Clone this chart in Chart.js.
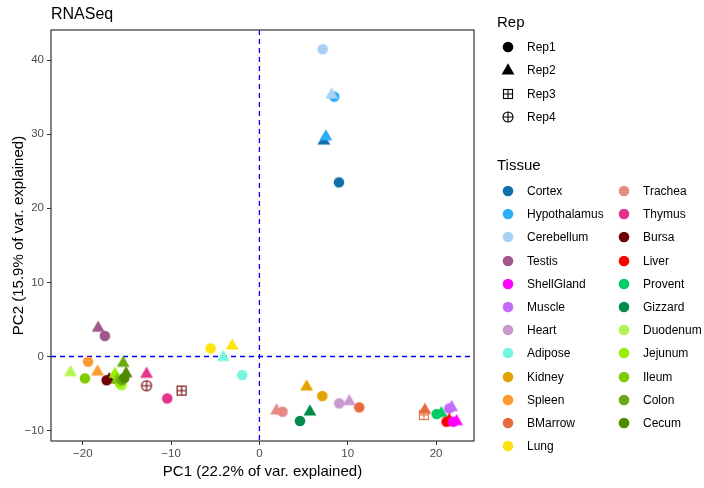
<!DOCTYPE html>
<html>
<head>
<meta charset="utf-8">
<script src="https://cdn.jsdelivr.net/npm/chart.js@4.4.0/dist/chart.umd.min.js"></script>
<style>
    body { margin: 0; background: #fff; }
    #wrap { position: relative; width: 704px; height: 488px; font-family: "Liberation Sans", Arial, sans-serif; color: #000; }
    #chart { position: absolute; left: 0; top: 0; }
    .lg-title { position: absolute; font-size: 15px; line-height: 18px; margin-top: -9px; }
    .lg-item { position: absolute; font-size: 12px; line-height: 16px; margin-top: -8px; white-space: nowrap; }
    .lg-item canvas { position: absolute; left: -27px; top: 0; }
</style>
</head>
<body>
<div id="wrap">
    <canvas id="chart" width="704" height="488"></canvas>
    <div id="legend"></div>
</div>
<script>
// ── data ──
const tissues = ['Cortex', 'Hypothalamus', 'Cerebellum', 'Testis', 'ShellGland', 'Muscle', 'Heart', 'Adipose',
    'Kidney', 'Spleen', 'BMarrow', 'Lung', 'Trachea', 'Thymus', 'Bursa', 'Liver', 'Provent', 'Gizzard',
    'Duodenum', 'Jejunum', 'Ileum', 'Colon', 'Cecum'];
const tissueColors = ['#1170AA', '#2BAEF5', '#A8D0F5', '#A0588A', '#FF00FF', '#C36BFA', '#C899CC', '#76F5DF',
    '#E3A400', '#FF9A33', '#E76B3F', '#FFE30F', '#E68A84', '#E5338C', '#6E0000', '#FF0000', '#00CC66', '#008B4A',
    '#B0F552', '#96F000', '#80CC00', '#6AAA0E', '#4F8A00'];
const reps = ['Rep1', 'Rep2', 'Rep3', 'Rep4'];

const sampleTissue = ['Cortex', 'Cortex', 'Hypothalamus', 'Hypothalamus', 'Cerebellum', 'Cerebellum',
    'Testis', 'Testis', 'Lung', 'Lung', 'Adipose', 'Adipose', 'Spleen', 'Spleen', 'Kidney', 'Kidney',
    'Trachea', 'Trachea', 'Gizzard', 'Gizzard', 'Heart', 'Heart', 'BMarrow', 'BMarrow', 'BMarrow',
    'Provent', 'Provent', 'Muscle', 'Muscle', 'Liver', 'Liver', 'ShellGland', 'ShellGland',
    'Thymus', 'Thymus', 'Bursa', 'Bursa', 'Bursa', 'Bursa', 'Duodenum', 'Duodenum', 'Jejunum', 'Jejunum',
    'Ileum', 'Ileum', 'Colon', 'Colon', 'Cecum', 'Cecum'];
const sampleRep = ['Rep1', 'Rep2', 'Rep1', 'Rep2', 'Rep1', 'Rep2',
    'Rep1', 'Rep2', 'Rep1', 'Rep2', 'Rep1', 'Rep2', 'Rep1', 'Rep2', 'Rep1', 'Rep2',
    'Rep1', 'Rep2', 'Rep1', 'Rep2', 'Rep1', 'Rep2', 'Rep1', 'Rep2', 'Rep3',
    'Rep1', 'Rep2', 'Rep1', 'Rep2', 'Rep1', 'Rep2', 'Rep1', 'Rep2',
    'Rep1', 'Rep2', 'Rep1', 'Rep2', 'Rep3', 'Rep4', 'Rep1', 'Rep2', 'Rep1', 'Rep2',
    'Rep1', 'Rep2', 'Rep1', 'Rep2', 'Rep1', 'Rep2'];
const pc1 = [9.0, 7.3, 8.47, 7.53, 7.16, 8.18,
    -17.5, -18.26, -5.53, -3.08, -1.95, -4.1, -19.4, -18.33, 7.12, 5.34,
    2.62, 1.94, 4.59, 5.72, 9.04, 10.17, 11.3, 18.74, 18.63,
    20.07, 20.6, 21.5, 21.76, 21.2, 21.5, 21.95, 22.33,
    -10.44, -12.78, -17.3, -17.0, -8.81, -12.78, -15.6, -21.4, -15.8, -16.36,
    -19.76, -16.1, -15.6, -15.42, -15.3, -15.1];
const pc2 = [23.5, 29.2, 35.06, 29.76, 41.46, 35.4,
    2.77, 3.94, 1.1, 1.55, -2.5, 0.0, -0.7, -1.96, -5.33, -3.98,
    -7.45, -7.22, -8.7, -7.36, -6.32, -5.96, -6.86, -7.13, -7.9,
    -7.76, -7.58, -7.0, -6.77, -8.8, -8.5, -8.8, -8.66,
    -5.65, -2.27, -3.2, -3.0, -4.6, -3.94, -3.9, -2.05, -3.6, -2.27,
    -2.95, -3.0, -3.2, -0.79, -2.9, -2.19];

const xTicks = [-20, -10, 0, 10, 20];
const yTicks = [-10, 0, 10, 20, 30, 40];

const FONT = '"Liberation Sans", Arial, sans-serif';
const repShape = { Rep1: 'circle', Rep2: 'triangle', Rep3: 'squarecross', Rep4: 'circleplus' };

// small canvases used as point styles (ggplot pch 16 / 17 / 12 / 10)
function makeMarker(shape, color) {
    const c = document.createElement('canvas');
    c.width = 16;
    c.height = 16;
    const ctx = c.getContext('2d');
    const m = 8;
    ctx.fillStyle = color;
    ctx.strokeStyle = color;
    ctx.lineWidth = 1.1;
    if (shape === 'circle') {
        ctx.beginPath();
        ctx.arc(m, m, 5.3, 0, Math.PI * 2);
        ctx.fill();
    } else if (shape === 'triangle') {
        const s = 12.8, h = s * Math.sqrt(3) / 2;
        ctx.beginPath();
        ctx.moveTo(m, m - h * 0.6);
        ctx.lineTo(m + s / 2, m + h * 0.4);
        ctx.lineTo(m - s / 2, m + h * 0.4);
        ctx.closePath();
        ctx.fill();
    } else if (shape === 'squarecross') {
        ctx.strokeRect(m - 4.5, m - 4.5, 9, 9);
        ctx.beginPath();
        ctx.moveTo(m, m - 4.5); ctx.lineTo(m, m + 4.5);
        ctx.moveTo(m - 4.5, m); ctx.lineTo(m + 4.5, m);
        ctx.stroke();
    } else {
        ctx.beginPath();
        ctx.arc(m, m, 5, 0, Math.PI * 2);
        ctx.moveTo(m, m - 5); ctx.lineTo(m, m + 5);
        ctx.moveTo(m - 5, m); ctx.lineTo(m + 5, m);
        ctx.stroke();
    }
    return c;
}

const colorOf = t => tissueColors[tissues.indexOf(t)];
const pointImages = sampleTissue.map((t, i) => makeMarker(repShape[sampleRep[i]], colorOf(t)));
const points = pc1.map((x, i) => ({ x, y: pc2[i] }));

// dashed blue lines at 0, and the panel border
const zeroLines = {
    id: 'zeroLines',
    beforeDatasetsDraw(chart) {
        const { ctx, chartArea: a, scales: { x, y } } = chart;
        const x0 = x.getPixelForValue(0), y0 = y.getPixelForValue(0);
        ctx.save();
        ctx.strokeStyle = '#0000FF';
        ctx.lineWidth = 1.3;
        ctx.setLineDash([5, 4]);
        ctx.beginPath();
        ctx.moveTo(x0, a.top); ctx.lineTo(x0, a.bottom);
        ctx.moveTo(a.left, y0); ctx.lineTo(a.right, y0);
        ctx.stroke();
        ctx.restore();
    },
    afterDatasetsDraw(chart) {
        const { ctx, chartArea: a } = chart;
        ctx.save();
        ctx.strokeStyle = '#333333';
        ctx.lineWidth = 1.2;
        ctx.strokeRect(a.left, a.top, a.right - a.left, a.bottom - a.top);
        ctx.restore();
    }
};

const minusFmt = v => String(v).replace('-', '\u2212');

new Chart(document.getElementById('chart'), {
    type: 'scatter',
    data: {
        datasets: [{
            data: points,
            pointStyle: ctx => pointImages[ctx.dataIndex],
            pointRadius: 5,
        }]
    },
    options: {
        responsive: false,
        devicePixelRatio: 1,
        animation: false,
        layout: { padding: { left: 0, right: 230, top: 0, bottom: 0 } },
        plugins: {
            legend: { display: false },
            tooltip: { enabled: false },
            title: {
                display: true,
                text: 'RNASeq',
                align: 'start',
                fullSize: false,
                color: '#000',
                font: { family: FONT, size: 16, weight: 'normal', lineHeight: 1.125 },
                padding: { top: 6, bottom: 6 },
            },
        },
        scales: {
            x: {
                type: 'linear',
                min: -23.6,
                max: 24.3,
                afterBuildTicks: s => { s.ticks = xTicks.map(v => ({ value: v })); },
                afterFit: s => { s.height = 47; },
                grid: { drawOnChartArea: false, drawTicks: true, tickLength: 4, tickColor: '#333' },
                border: { display: false },
                ticks: { color: '#4D4D4D', font: { family: FONT, size: 11.5 }, padding: 2, callback: minusFmt },
                title: {
                    display: true,
                    text: 'PC1 (22.2% of var. explained)',
                    color: '#000',
                    font: { family: FONT, size: 15 },
                    padding: { top: 0, bottom: 7 },
                },
            },
            y: {
                type: 'linear',
                min: -11.4,
                max: 44.05,
                afterBuildTicks: s => { s.ticks = yTicks.map(v => ({ value: v })); },
                afterFit: s => { s.width = 51; },
                grid: { drawOnChartArea: false, drawTicks: true, tickLength: 4, tickColor: '#333' },
                border: { display: false },
                ticks: { color: '#4D4D4D', font: { family: FONT, size: 11.5 }, padding: 3, callback: minusFmt },
                title: {
                    display: true,
                    text: 'PC2 (15.9% of var. explained)',
                    color: '#000',
                    font: { family: FONT, size: 15 },
                    padding: { top: 10, bottom: 0 },
                },
            },
        },
    },
    plugins: [zeroLines],
});

// ── legends (Rep shapes, Tissue colours) ──
const legend = document.getElementById('legend');
function addTitle(text, x, y) {
    const d = document.createElement('div');
    d.className = 'lg-title';
    d.textContent = text;
    d.style.left = x + 'px';
    d.style.top = y + 'px';
    legend.appendChild(d);
}
function addItem(text, marker, x, y) {
    const d = document.createElement('div');
    d.className = 'lg-item';
    d.textContent = text;
    d.style.left = x + 'px';
    d.style.top = y + 'px';
    marker.style.left = '-27px';
    marker.style.top = '0px';
    d.appendChild(marker);
    legend.appendChild(d);
}

addTitle('Rep', 497, 22);
reps.forEach((r, i) => addItem(r, makeMarker(repShape[r], '#000'), 527, 46.7 + i * 23.5));

addTitle('Tissue', 497, 165);
tissues.forEach((t, i) => {
    const col = i < 12 ? 0 : 1;
    const row = i < 12 ? i : i - 12;
    addItem(t, makeMarker('circle', tissueColors[i]), col ? 643 : 527, 191 + row * 23.2);
});
</script>
</body>
</html>
